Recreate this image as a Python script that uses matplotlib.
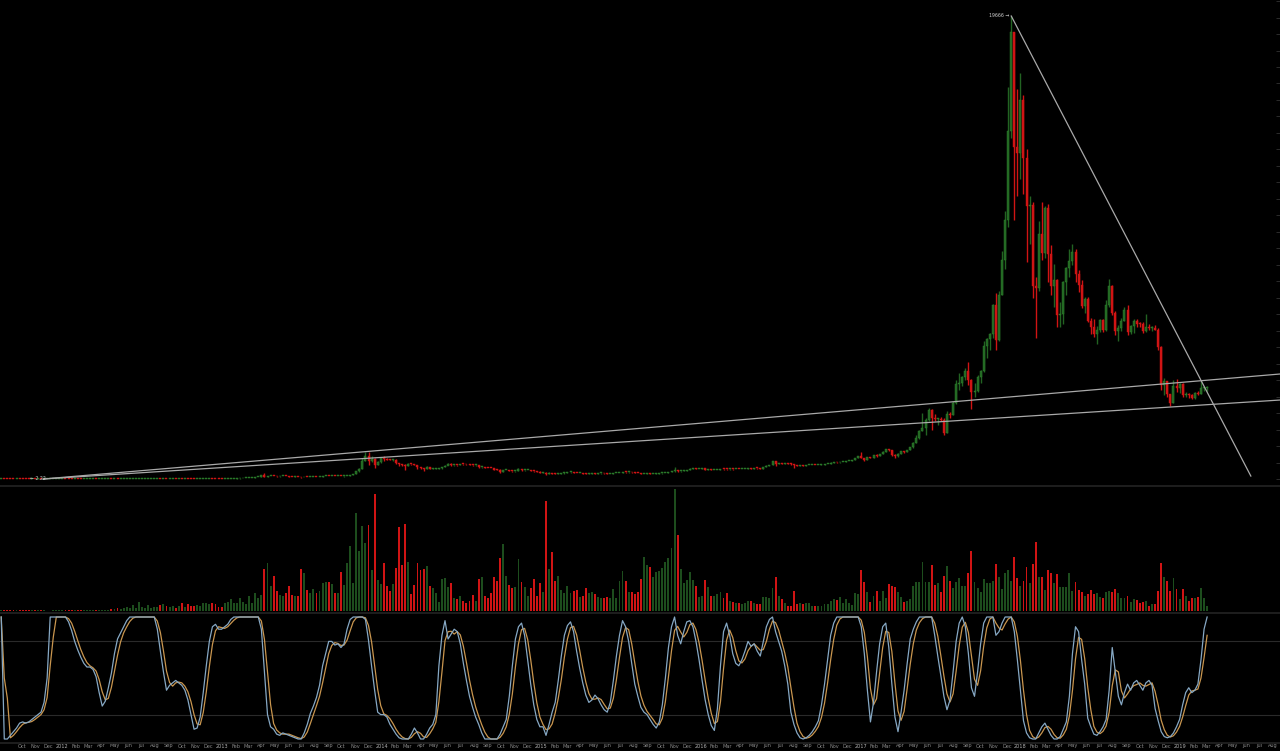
import numpy as np
import pandas as pd
import matplotlib
matplotlib.use("Agg")
import matplotlib.pyplot as plt
import matplotlib.dates as mdates
from matplotlib.lines import Line2D
from matplotlib.transforms import blended_transform_factory

# ---------------- data (weekly, week starting Monday) ----------------
week_start = "2011-08-15"
first_open = 10.9

close_2011 = [11.0, 8.6, 8.2, 5.8, 5.0, 5.4, 5.0, 4.6, 3.9, 3.2, 3.2, 3.0, 3.0, 2.3, 2.5, 2.8, 3.0, 3.2, 4.0, 5.0]
high_2011 = [12.0, 11.2, 9.0, 8.2, 6.2, 6.0, 5.6, 5.2, 4.7, 4.1, 3.5, 3.5, 3.4, 3.1, 2.7, 3.1, 3.2, 3.4, 4.2, 5.3]
low_2011 = [10.5, 8.0, 7.8, 5.6, 4.8, 4.9, 4.8, 4.4, 3.8, 2.22, 3.0, 2.9, 2.9, 2.3, 2.3, 2.4, 2.8, 3.0, 3.2, 3.9]

close_2012 = [6.8, 6.4, 6.3, 5.5, 5.9, 5.6, 4.4, 4.9, 4.9, 4.9, 5.3, 4.6, 4.9, 4.9, 4.9, 5.1, 5.0, 5.1,
              5.0, 5.1, 5.1, 5.2, 5.5, 5.9, 6.4, 6.6, 6.8, 7.6, 8.5, 8.8, 10.9, 11.5, 10.0, 10.6, 10.3,
              11.0, 11.8, 11.7, 12.3, 12.0, 12.2, 11.7, 11.0, 10.7, 10.9, 11.3, 12.3, 12.6, 13.5, 13.4,
              13.3, 13.2, 13.1]
high_2012 = [7.2, 7.1, 6.9, 6.6, 6.2, 6.0, 5.9, 5.1, 5.1, 5.0, 5.4, 5.4, 5.0, 5.0, 5.0, 5.2, 5.2, 5.2,
             5.2, 5.2, 5.2, 5.3, 5.6, 6.0, 6.5, 6.7, 6.9, 7.8, 8.9, 9.3, 11.0, 11.8, 16.0, 11.0, 10.9,
             11.2, 11.9, 12.5, 12.5, 12.6, 12.4, 12.3, 11.8, 11.1, 11.0, 11.4, 12.5, 12.8, 13.7, 13.7,
             13.6, 13.5, 13.4]
low_2012 = [5.0, 6.2, 6.0, 5.3, 5.4, 5.4, 4.2, 4.3, 4.7, 4.8, 4.8, 4.6, 4.5, 4.8, 4.8, 4.8, 4.9, 4.9,
            4.9, 4.9, 5.0, 5.1, 5.1, 5.4, 5.8, 6.2, 6.4, 6.7, 7.5, 8.2, 8.7, 10.5, 7.0, 9.5, 9.9,
            10.1, 10.9, 11.5, 11.6, 11.8, 11.9, 11.5, 10.8, 10.5, 10.5, 10.8, 11.2, 12.2, 12.5, 13.0,
            13.1, 13.0, 12.9]

close_2013 = [13.9, 15.3, 17.5, 20.4, 23.6, 26.8, 29.8, 34.0, 46.0, 47.0, 71.0, 93.0,
              162, 93, 119, 128, 115, 112, 118, 122, 120, 100, 98, 102, 92,
              70, 92, 90, 95, 100, 98, 104, 115, 128, 122, 125, 123, 126, 122,
              128, 145, 180, 205, 340, 440, 780, 960, 770, 870, 600, 730, 900]
high_2013 = [14.2, 15.5, 17.9, 20.7, 24.0, 27.2, 30.4, 34.6, 48.5, 48.4, 74, 96,
             190, 266, 128, 136, 144, 120, 124, 126, 134, 125, 108, 112, 104,
             93, 95, 100, 99, 104, 107, 107, 116, 130, 130, 128, 130, 128, 135,
             130, 150, 185, 215, 350, 450, 900, 1163, 1150, 1000, 900, 760, 950]
low_2013 = [13.0, 13.8, 14.8, 17.2, 20.2, 23.2, 26.0, 29.0, 33.0, 44.5, 46.0, 71,
            92, 75, 80, 115, 110, 98, 108, 114, 118, 99, 95, 91, 83,
            65, 70, 87, 89, 92, 95, 97, 102, 112, 115, 115, 121, 120, 118,
            102, 127, 143, 178, 205, 320, 440, 760, 600, 720, 455, 580, 700]

close_2014 = [870, 830, 810, 830, 680, 620, 600, 570, 635, 630, 585, 495, 450,
              415, 500, 435, 440, 445, 450, 525, 575, 650, 585, 595, 590, 640,
              630, 620, 600, 585, 590, 500, 515, 480, 475, 470, 400, 380, 320,
              390, 395, 355, 325, 350, 420, 375, 378, 380, 350, 330, 320, 265]
high_2014 = [1000, 880, 870, 850, 840, 700, 650, 620, 680, 645, 640, 590, 500,
             460, 540, 510, 450, 455, 455, 530, 590, 670, 665, 615, 605, 645,
             650, 630, 625, 600, 595, 600, 525, 515, 490, 485, 480, 410, 410,
             400, 405, 395, 360, 360, 460, 420, 385, 385, 380, 355, 335, 330]
low_2014 = [760, 800, 790, 770, 660, 560, 560, 400, 560, 600, 580, 440, 430,
            340, 415, 430, 420, 425, 430, 445, 520, 580, 570, 560, 560, 580,
            610, 605, 590, 575, 575, 480, 470, 470, 470, 465, 400, 380, 275,
            320, 375, 355, 320, 320, 345, 360, 360, 365, 345, 310, 310, 260]

close_2015 = [275, 210, 250, 225, 222, 235, 245, 275, 285, 287, 260, 250, 255,
              235, 225, 228, 236, 234, 240, 242, 237, 225, 230, 245, 250, 258,
              300, 285, 290, 280, 265, 260, 230, 232, 240, 232, 233, 235, 240,
              246, 265, 285, 325, 385, 330, 335, 360, 390, 435, 455, 420, 430]
high_2015 = [290, 285, 310, 260, 245, 240, 260, 280, 300, 300, 295, 275, 260,
             260, 238, 238, 240, 245, 245, 245, 242, 238, 232, 252, 255, 262,
             310, 320, 305, 300, 285, 270, 265, 235, 245, 245, 235, 237, 242,
             248, 268, 290, 330, 500, 390, 340, 365, 395, 465, 465, 460, 435]
low_2015 = [260, 165, 205, 210, 212, 212, 233, 230, 268, 271, 255, 240, 238,
            230, 218, 220, 222, 228, 230, 230, 232, 222, 223, 228, 242, 250,
            255, 270, 272, 275, 260, 255, 200, 200, 224, 228, 226, 228, 232,
            235, 245, 263, 280, 320, 305, 310, 325, 355, 385, 430, 410, 415]

close_2016 = [450, 385, 400, 375, 378, 380, 435, 425, 410, 415, 412, 415, 412,
              420, 428, 450, 448, 458, 455, 440, 525, 575, 590, 760, 630, 665,
              650, 665, 660, 625, 590, 570, 580, 575, 608, 610, 612, 605, 612,
              617, 640, 655, 700, 710, 705, 735, 740, 765, 770, 790, 900, 965]
high_2016 = [465, 455, 410, 410, 380, 385, 445, 445, 425, 420, 420, 420, 425,
             425, 430, 452, 465, 465, 460, 458, 530, 580, 595, 780, 760, 680,
             680, 675, 680, 665, 630, 600, 585, 585, 610, 615, 615, 614, 614,
             620, 642, 660, 710, 740, 735, 745, 745, 770, 780, 790, 900, 980]
low_2016 = [425, 375, 370, 365, 365, 370, 378, 405, 400, 405, 405, 410, 408,
            410, 418, 427, 440, 440, 448, 435, 440, 520, 565, 590, 550, 620,
            630, 645, 650, 615, 480, 560, 565, 565, 575, 600, 605, 590, 598,
            605, 615, 630, 650, 690, 690, 695, 725, 730, 750, 765, 790, 890]

close_2017 = [905, 830, 920, 915, 1010, 1000, 1055, 1170, 1260, 1230, 1020, 960, 1080,
              1180, 1170, 1240, 1350, 1550, 1750, 2050, 2150, 2500, 2950, 2600, 2550, 2560,
              2500, 1950, 2750, 2720, 3250, 4050, 4100, 4350, 4600, 4200, 3700, 3750, 4350,
              4600, 5650, 5950, 6150, 7400, 5900, 7800, 9300, 11000, 14800, 19000, 14100, 13860]
high_2017 = [1150, 910, 925, 930, 1030, 1055, 1060, 1200, 1265, 1290, 1250, 1060, 1100,
             1200, 1200, 1245, 1360, 1590, 1850, 2100, 2790, 2580, 3000, 2980, 2780, 2600,
             2640, 2600, 2900, 2840, 3300, 4200, 4500, 4380, 4700, 4980, 4250, 4100, 4400,
             4650, 5870, 6000, 6200, 7450, 7900, 8000, 9700, 11400, 16650, 19666, 19000, 16550]
low_2017 = [880, 750, 820, 880, 915, 935, 985, 1045, 1150, 1200, 975, 890, 940,
            1070, 1100, 1160, 1230, 1320, 1540, 1700, 2020, 1850, 2480, 2100, 2450, 2300,
            2470, 1850, 1950, 2600, 2700, 3200, 3800, 3950, 4200, 4000, 2980, 3500, 3700,
            4100, 4550, 5150, 5500, 6000, 5500, 5850, 7800, 8900, 10700, 14500, 11000, 12000]

close_2018 = [16100, 13650, 11600, 11650, 8200, 8100, 10400, 9600, 11500, 9550, 8200, 8450, 6950,
              7000, 8350, 8950, 9250, 9650, 8700, 8250, 7350, 7650, 6700, 6450, 6150, 6350,
              6750, 6350, 7400, 8200, 7050, 6300, 6400, 6700, 7200, 6250, 6500, 6700, 6600,
              6580, 6300, 6450, 6400, 6420, 6350, 5600, 4000, 4150, 3600, 3250, 3950, 3850, 4050]
high_2018 = [17250, 16300, 14000, 12000, 11750, 8600, 10950, 11750, 11600, 11700, 9950, 9150, 8500,
             7500, 8400, 9000, 9750, 9990, 9750, 8880, 8450, 7750, 7750, 6850, 6800, 6500,
             6800, 6800, 7600, 8500, 8250, 7150, 6550, 6850, 7300, 7400, 6550, 6800, 6800,
             6650, 6650, 7000, 6600, 6480, 6550, 6400, 5650, 4300, 4150, 3600, 4200, 4250, 4100]
low_2018 = [12750, 12100, 9200, 10000, 7700, 6000, 8000, 9300, 9400, 8350, 7800, 7300, 6450,
            6450, 6600, 7800, 8600, 9100, 8350, 7950, 7250, 7050, 6650, 6150, 6050, 5750,
            6250, 6250, 6300, 7300, 6950, 6100, 5880, 6280, 6700, 6100, 6180, 6200, 6450,
            6450, 6200, 6250, 6350, 6300, 6350, 5500, 3800, 3550, 3500, 3120, 3250, 3700, 3650]

close_2019 = [3550, 3600, 3550, 3450, 3650, 3620, 3850, 3870, 3900]
high_2019 = [4100, 3700, 3650, 3600, 3700, 3720, 4200, 3920, 3950]
low_2019 = [3500, 3500, 3450, 3380, 3400, 3580, 3620, 3750, 3730]

# weekly volume (relative units)
vol_2011 = [1.0, 0.8, 1.2, 1.5, 1.0, 0.8, 0.7, 0.6, 0.8, 1.0, 0.7, 0.6, 0.8, 1.0, 0.6, 0.5, 0.5, 0.6, 0.7, 0.8]
vol_2012 = [0.8, 0.6, 0.7, 0.9, 0.6, 0.7, 1.0, 0.8, 0.6, 0.6, 0.7, 0.7, 0.8, 0.9, 1.0, 1.5, 2.0, 2.5,
            3.0, 2.5, 3.0, 4.0, 3.5,
            6, 2.7, 9.3, 4, 2.7, 6, 2.7, 4, 4, 6, 7, 5, 3.7, 5, 3.3, 5, 7.7, 3.7, 6.7, 5, 5, 6, 5,
            7.7, 7.7, 7, 8.3, 6.7, 4.3, 4.3]
vol_2013 = [7.7, 9.3, 12, 8.3, 7.7, 12.7, 9.3, 7, 15, 7.7, 17.7, 12.7, 16, 41.7, 47.7, 25, 35.3,
            20.3, 16, 15, 17.7, 25, 16, 15, 15.3, 41.7, 38.3, 21, 18.3, 21.7, 17.7, 20, 27.7, 29.3,
            28.7, 27, 17.7, 18.3, 39.3, 26, 47.7, 65, 28.3, 97.7, 60.3, 85, 67.7, 86, 41, 117, 31, 27]
vol_2014 = [47.7, 25, 20, 26.7, 42.7, 84.3, 46, 87, 48.7, 17, 26, 48.3,
            41, 41.7, 45, 25, 22.7, 17.7, 9.3, 31.7, 32.7, 23.7, 28.3, 13.3, 12, 15, 10, 7.7, 10.3,
            16, 10, 32, 34.3, 15.3, 13.3, 17.7, 33.7, 30.3, 52.7, 66.7, 35.3, 26, 23.3, 23.7, 51.7,
            29, 24.3, 15, 22.7, 32, 15, 28.3]
vol_2015 = [18.7, 110, 41.7, 59.3, 30, 35.3, 21, 17.7, 25.3, 17.7, 20.3, 21, 13.7, 15.3, 22.7,
            18.3, 18.7, 16.7, 13.7, 12.7, 13.3, 13.7, 12.7, 21.7, 12.7, 30, 40, 30, 18.7, 18.7,
            16.7, 18.7, 32, 53.7, 46, 43.7, 34.3, 39.3, 40, 42.7, 48.7, 52.7, 62.7, 121.7, 76,
            41.7, 27.7, 31, 39.3, 31, 25, 13.7]
vol_2016 = [15.3, 31, 23.7, 15.3, 15, 17, 19.3, 12.7, 17.7, 10.3, 8.7, 7.7, 7.7, 7, 7.7, 10.3, 10,
            8.3, 6.7, 6.7, 14.3, 14.3, 12.7, 23.3, 34.3, 15.3, 12, 7.7, 5.3, 5.3, 20, 7, 7.7, 7,
            8.3, 8.3, 5.3, 5.3, 5.3, 5.3, 6.7, 7, 10, 11.7, 11, 13.7, 8.3, 11.7, 8.3, 6, 17.7, 16.7]
vol_2017 = [41, 28.7, 18.7, 9.3, 15, 20, 10.3, 20, 12.7, 26.7, 25, 23.7, 18.7, 14.3, 9.3, 10, 12,
            25, 29.3, 28.7, 48.7, 28.7, 28.7, 46, 26, 27.7, 18.7, 35.3, 45, 30, 22.7, 28.7, 33.3,
            25, 25.3, 37.7, 60, 29.3, 22.7, 18.7, 31.7, 27.7, 27.7, 30, 46.7, 33.7, 22, 38.3, 41,
            30, 53.7, 32.7]
vol_2018 = [25, 30, 44.3, 28.3, 46.7, 68.7, 33.7, 33.7, 21, 41, 37.7, 28.3, 36.7, 24.3, 23.7, 24.3,
            37.7, 20, 29.3, 21, 18.7, 15.3, 17, 21, 17, 17.7, 13.7, 13.3, 19.3, 20, 19.3, 21.7,
            17.7, 13.3, 12.7, 15, 9.3, 12, 11, 7.7, 8.7, 10, 5, 6.7, 6.7, 20.3, 47.7, 33.7, 30, 20,
            33.3, 22, 12]
vol_2019 = [22, 15, 10.3, 12.7, 12.7, 14.3, 23.3, 12.7, 5]

# Stochastic RSI %K (0-100)
stoch_2011 = [100, 0, 0, 3, 6, 9, 13, 14, 13, 14, 16, 18, 20, 22, 30, 50, 100, 100, 100, 100]
stoch_2012 = [100, 100, 96, 89, 80, 73, 67, 62, 59, 59, 57, 51, 38, 27, 31, 42, 54, 70, 82, 87,
              92, 97, 100, 100, 100, 100, 100, 100, 100, 100, 100, 90, 72, 55, 40, 44, 46, 48, 46, 44,
              40, 32, 20, 8, 9, 18, 38, 60, 80, 92, 94, 90, 90]
stoch_2013 = [92, 94, 98, 100, 100, 100, 100, 100, 100, 100, 100, 100, 90, 55, 20, 10, 8, 4, 3, 5,
              4, 3, 2, 1, 0, 0, 5, 12, 21, 27, 34, 44, 60, 70, 80, 80, 77, 78, 75, 78,
              90, 98, 100, 100, 100, 100, 98, 81, 60, 40, 22, 20]
stoch_2014 = [20, 18, 12, 8, 4, 1, 0, 0, 0, 4, 9, 5, 0, 0, 4, 9, 12, 20, 60, 85,
              97, 82, 86, 90, 88, 78, 62, 48, 35, 26, 18, 12, 5, 0, 0, 0, 0, 0, 4, 10,
              16, 35, 60, 82, 92, 95, 85, 65, 45, 28, 16, 10]
stoch_2015 = [10, 3, 12, 22, 30, 48, 68, 85, 93, 96, 88, 72, 58, 46, 36, 30, 32, 36, 33, 28,
              24, 22, 30, 48, 68, 85, 97, 92, 80, 62, 45, 35, 26, 22, 20, 16, 12, 9, 14, 28,
              50, 75, 92, 100, 85, 78, 88, 96, 97, 92, 80, 65]
stoch_2016 = [48, 32, 20, 11, 7, 25, 60, 88, 95, 85, 70, 62, 60, 65, 72, 80, 76, 78, 72, 68,
              80, 92, 98, 100, 88, 80, 72, 60, 45, 22, 12, 5, 1, 0, 1, 3, 6, 10, 15, 28,
              45, 65, 85, 95, 100, 100, 100, 100, 100, 100, 100, 100]
stoch_2017 = [92, 70, 40, 14, 30, 55, 78, 92, 95, 75, 45, 18, 6, 22, 40, 62, 82, 90, 96, 100,
              100, 100, 100, 100, 85, 68, 52, 35, 24, 32, 55, 80, 95, 100, 92, 70, 42, 35, 55, 78,
              95, 100, 100, 100, 85, 88, 95, 100, 100, 100, 88, 65]
stoch_2018 = [40, 15, 5, 1, 0, 0, 5, 10, 13, 8, 3, 0, 0, 2, 8, 14, 35, 70, 92, 88,
              65, 45, 17, 10, 4, 3, 6, 10, 16, 40, 75, 55, 35, 28, 38, 45, 40, 46, 48, 44,
              40, 46, 48, 44, 25, 15, 6, 2, 1, 2, 5, 10, 16]
stoch_2019 = [28, 38, 42, 38, 40, 45, 65, 90, 100]

# annotation trend lines (date, price) anchors
trend_upper = [("2011-11-19", 2.22), ("2019-08-17", 4460)]
trend_lower = [("2011-11-19", 2.22), ("2019-08-17", 3355)]
trend_down = [("2017-12-11", 19666), ("2019-06-12", 127)]

# ---------------- assemble ----------------
close = np.concatenate([close_2011, close_2012, close_2013, close_2014, close_2015,
                        close_2016, close_2017, close_2018, close_2019]).astype(float)
high = np.concatenate([high_2011, high_2012, high_2013, high_2014, high_2015,
                       high_2016, high_2017, high_2018, high_2019]).astype(float)
low = np.concatenate([low_2011, low_2012, low_2013, low_2014, low_2015,
                      low_2016, low_2017, low_2018, low_2019]).astype(float)
volume = np.concatenate([vol_2011, vol_2012, vol_2013, vol_2014, vol_2015,
                         vol_2016, vol_2017, vol_2018, vol_2019]).astype(float)
stoch_k = pd.Series(np.concatenate([stoch_2011, stoch_2012, stoch_2013, stoch_2014, stoch_2015,
                                    stoch_2016, stoch_2017, stoch_2018, stoch_2019]).astype(float))
stoch_d = stoch_k.rolling(3, min_periods=1).mean()
open_ = np.concatenate([[first_open], close[:-1]])

n = len(close)
weeks = pd.date_range(week_start, periods=n, freq="7D")
x = mdates.date2num(weeks)

# ---------------- figure ----------------
W, H = 1280, 751
BG = "#000000"
GREEN = "#226322"
GREEN_EDGE = "#2f8a2f"
RED = "#d01414"
VGREEN = "#1d4d1d"
fig = plt.figure(figsize=(W / 100, H / 100), dpi=100, facecolor=BG)


def panel(top, bottom):
    ax = fig.add_axes([0, 1 - bottom / H, 1, (bottom - top) / H])
    ax.set_facecolor(BG)
    for s in ax.spines.values():
        s.set_visible(False)
    ax.tick_params(left=False, bottom=False, right=False, top=False,
                   labelleft=False, labelbottom=False)
    return ax


ax_p = panel(0, 485)
ax_v = panel(487, 612)
ax_s = panel(614, 742)

px_per_year = 159.7
days_per_px = 365.25 / px_per_year
x2012 = mdates.date2num(pd.Timestamp("2012-01-01"))
xlim = (x2012 - 62 * days_per_px, x2012 + (W - 62) * days_per_px)
for ax in (ax_p, ax_v, ax_s):
    ax.set_xlim(*xlim)

usd_per_px = 42.47
ax_p.set_ylim(-(485 - 479.05) * usd_per_px, 479.05 * usd_per_px)

up = close >= open_
cols = np.where(up, GREEN, RED)
edges = np.where(up, GREEN_EDGE, RED)
body_w = 2.0 * days_per_px
ax_p.vlines(x, low, high, colors=cols, linewidth=1.0, zorder=2)
body_bottom = np.minimum(open_, close)
body_h = np.maximum(np.abs(close - open_), 0.9 * usd_per_px)
ax_p.bar(x, body_h, bottom=body_bottom, width=body_w, color=cols, edgecolor=edges,
         linewidth=0.3, zorder=3)

# trend lines
for line in (trend_upper, trend_lower, trend_down):
    lx = [mdates.date2num(pd.Timestamp(d)) for d, _ in line]
    ly = [p for _, p in line]
    ax_p.plot(lx, ly, color="#a9a9a9", linewidth=0.9, zorder=4)

# high / low labels
ih = int(np.argmax(high))
il = int(np.argmin(low))
ax_p.annotate(f"{high[ih]:.0f} \u2192", xy=(x[ih], high[ih]), xytext=(-1.5, 0),
              textcoords="offset points", ha="right", va="center",
              fontsize=3.3, color="#d0d0d0", zorder=5)
ax_p.annotate(f"\u2190 {low[il]:.2f}", xy=(x[il], low[il]), xytext=(1.0, 0),
              textcoords="offset points", ha="left", va="center",
              fontsize=3.3, color="#d0d0d0", zorder=5)

# faint right-edge ticks
ax_p.yaxis.tick_right()
ax_p.set_yticks(np.arange(0, 20400, 700))
ax_p.tick_params(axis="y", right=True, length=3, width=0.6, color="#333333",
                 direction="in", labelright=False)

# volume
vcols = np.where(up, VGREEN, RED)
ax_v.bar(x, volume, width=1.9 * days_per_px, color=vcols, linewidth=0)
ax_v.set_ylim(-1, 124)

# stochastic
ax_s.axhline(80, color="#2a2a2a", linewidth=0.8)
ax_s.axhline(20, color="#2a2a2a", linewidth=0.8)
ax_s.plot(x, stoch_d, color="#c9964f", linewidth=0.9)
ax_s.plot(x, stoch_k, color="#86a8c4", linewidth=0.9)
ax_s.set_ylim(-(742 - 739) / 1.22, 100 + (617 - 614) / 1.22)

# separators
for yy in (486, 613, 742.5):
    fig.add_artist(Line2D([0, 1], [1 - yy / H, 1 - yy / H], color="#1e1e1e",
                          linewidth=1.4, transform=fig.transFigure))

# month labels
trans = blended_transform_factory(ax_s.transData, ax_s.transAxes)
months = pd.date_range("2011-10-01", "2019-08-01", freq="MS")
for m in months:
    lab = str(m.year) if m.month == 1 else m.strftime("%b")
    ax_s.text(mdates.date2num(m), -(746 - 742) / 128, lab, transform=trans,
              ha="center", va="center", fontsize=3.6,
              color="#b0b0b0" if m.month == 1 else "#8a8a8a", clip_on=False)

fig.savefig("out.png", dpi=100, facecolor=BG)
